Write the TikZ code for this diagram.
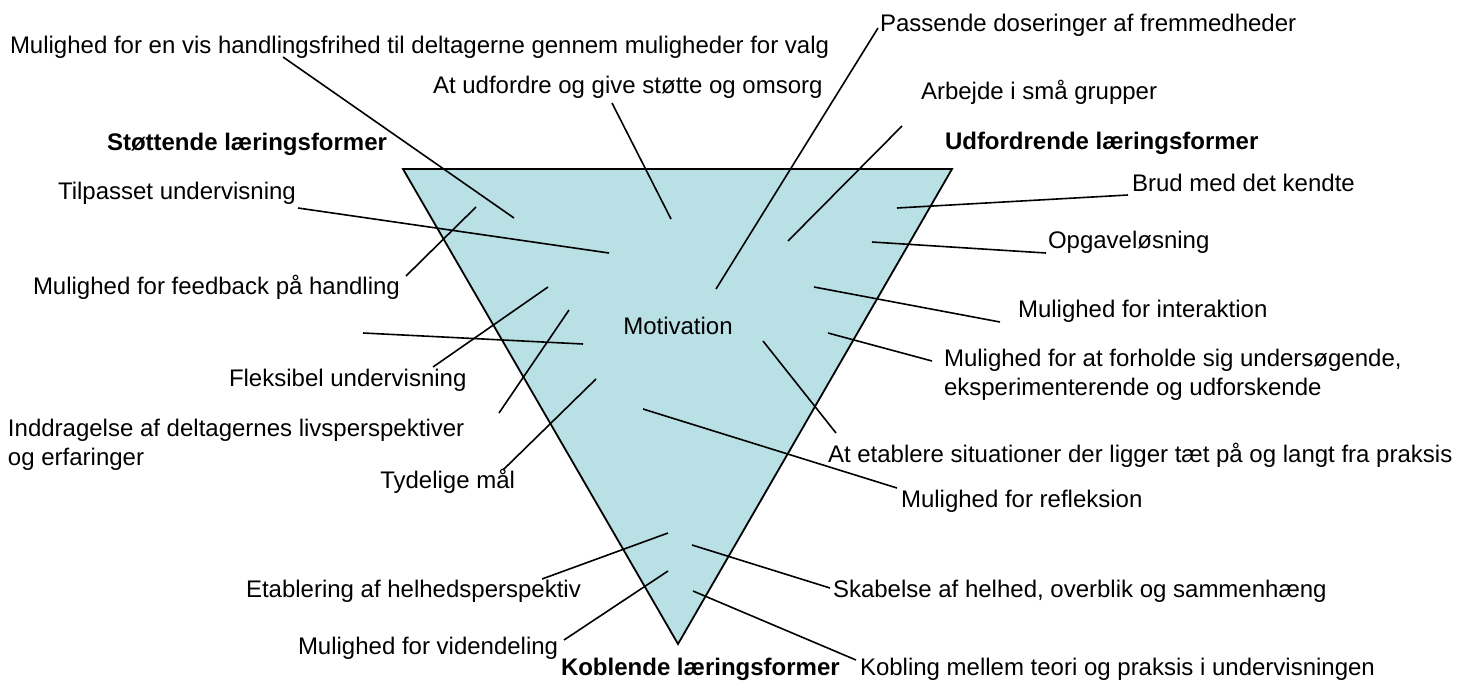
\documentclass[tikz,border=0pt]{standalone}
\usepackage{fontspec}
\setmainfont{Liberation Sans}
\definecolor{funnel}{RGB}{185,224,228}
\begin{document}
\begin{tikzpicture}[x=1pt,y=-1pt,
  lbl/.style={font=\fontsize{24}{29}\selectfont, inner sep=0pt, outer sep=0pt, anchor=base west},
  head/.style={lbl, font=\fontsize{24}{29}\selectfont\bfseries},
  link/.style={line width=1.6pt, black},
  funnelshape/.style={draw=black, line width=1.8pt, fill=funnel, line join=miter},
]
\useasboundingbox (0,0) rectangle (1464,681);

% the funnel
\coordinate (tl) at (403,169);
\coordinate (tr) at (952,169);
\coordinate (tip) at (678,644);
\path[funnelshape] (tl) -- (tr) -- (tip) -- cycle;

% connector end points: outer (label side) and inner (inside the funnel)
\coordinate (o1) at (283,57);    \coordinate (i1) at (514,218);
\coordinate (o2) at (878,28);    \coordinate (i2) at (716,289);
\coordinate (o3) at (612,103);   \coordinate (i3) at (671,219);
\coordinate (o4) at (902,126);   \coordinate (i4) at (788,241);
\coordinate (o5) at (298,208);   \coordinate (i5) at (609,253);
\coordinate (o6) at (1128,195);  \coordinate (i6) at (897,208);
\coordinate (o7) at (1046,253);  \coordinate (i7) at (872,242);
\coordinate (o8) at (406,276);   \coordinate (i8) at (476,207);
\coordinate (o9) at (1000,322);  \coordinate (i9) at (814,287);
\coordinate (o10) at (932,361);  \coordinate (i10) at (828,333);
\coordinate (o11) at (363,333);  \coordinate (i11) at (583,344);
\coordinate (o12) at (433,367);  \coordinate (i12) at (548,287);
\coordinate (o13) at (499,413);  \coordinate (i13) at (569,310);
\coordinate (o14) at (503,470);  \coordinate (i14) at (596,379);
\coordinate (o15) at (836,433);  \coordinate (i15) at (763,341);
\coordinate (o16) at (897,488);  \coordinate (i16) at (643,409);
\coordinate (o17) at (542,579);  \coordinate (i17) at (668,533);
\coordinate (o18) at (830,588);  \coordinate (i18) at (692,545);
\coordinate (o19) at (564,640);  \coordinate (i19) at (668,571);
\coordinate (o20) at (856,660);  \coordinate (i20) at (693,591);

\foreach \k in {1,...,20} {\draw[link] (o\k) -- (i\k);}

% labels (two-line labels are placed by the baseline of their last line)
\node[lbl] (t1) at (10,53) {Mulighed for en vis handlingsfrihed til deltagerne gennem muligheder for valg};
\node[lbl] (t2) at (880,31) {Passende doseringer af fremmedheder};
\node[lbl] (t3) at (433,93) {At udfordre og give støtte og omsorg};
\node[lbl] (t4) at (921,99) {Arbejde i små grupper};
\node[head] (h1) at (107,150) {Støttende læringsformer};
\node[head] (h2) at (945,149) {Udfordrende læringsformer};
\node[lbl] (t5) at (58,199) {Tilpasset undervisning};
\node[lbl] (t6) at (1132,191) {Brud med det kendte};
\node[lbl] (t7) at (1048,248) {Opgaveløsning};
\node[lbl] (t8) at (33,294) {Mulighed for feedback på handling};
\node[lbl] (t9) at (1018,317) {Mulighed for interaktion};
\node[lbl, anchor=base] (mot) at (678,334) {Motivation};
\node[lbl, align=left] (t10) at (944,395) {Mulighed for at forholde sig undersøgende,\\eksperimenterende og udforskende};
\node[lbl] (t12) at (229,386) {Fleksibel undervisning};
\node[lbl, align=left] (t13) at (8,465) {Inddragelse af deltagernes livsperspektiver\\og erfaringer};
\node[lbl] (t15) at (828,462) {At etablere situationer der ligger tæt på og langt fra praksis};
\node[lbl, anchor=base east] (t14) at (515,488) {Tydelige mål};
\node[lbl] (t16) at (901,507) {Mulighed for refleksion};
\node[lbl] (t17) at (246,597) {Etablering af helhedsperspektiv};
\node[lbl] (t18) at (833,597) {Skabelse af helhed, overblik og sammenhæng};
\node[lbl] (t19) at (298,654) {Mulighed for videndeling};
\node[head] (h3) at (561,675) {Koblende læringsformer};
\node[lbl] (t20) at (860,675) {Kobling mellem teori og praksis i undervisningen};
\end{tikzpicture}
\end{document}
